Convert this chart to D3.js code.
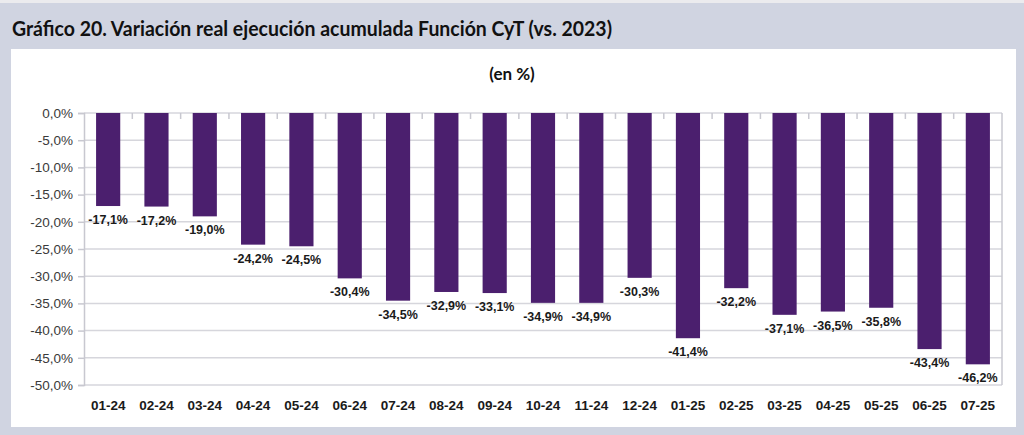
<!DOCTYPE html>
<html><head><meta charset="utf-8">
<script src="https://cdn.jsdelivr.net/npm/d3@7"></script>
<style>
html,body{margin:0;padding:0;background:#d0d4e1;}
svg{display:block;}
</style></head>
<body>
<svg id="chart" width="1024" height="435"></svg>
<script>
const categories = ["01-24","02-24","03-24","04-24","05-24","06-24","07-24","08-24","09-24","10-24","11-24","12-24","01-25","02-25","03-25","04-25","05-25","06-25","07-25"];
const values = [-17.1,-17.2,-19.0,-24.2,-24.5,-30.4,-34.5,-32.9,-33.1,-34.9,-34.9,-30.3,-41.4,-32.2,-37.1,-36.5,-35.8,-43.4,-46.2];
const yTicks = [0,-5,-10,-15,-20,-25,-30,-35,-40,-45,-50];
const titleText = "Gráfico 20. Variación real ejecución acumulada Función CyT (vs. 2023)";
const subtitleText = "(en %)";

(function(){
const svg = d3.select("#chart");
const fmt = v => d3.format(".1f")(v).replace("−","-").replace(".", ",") + "%";

svg.append("rect").attr("x",0).attr("y",0).attr("width",1024).attr("height",435).attr("fill","#d0d4e1");
svg.append("rect").attr("x",0).attr("y",0).attr("width",1024).attr("height",3).attr("fill","#ebebee");
svg.append("rect").attr("x",11).attr("y",49).attr("width",1005).attr("height",378).attr("fill","#ffffff");

svg.append("text").attr("x",12).attr("y",36).text(titleText)
  .attr("font-family","Lato, 'Open Sans', sans-serif").attr("font-weight","bold")
  .attr("font-size",21).attr("fill","#111")
  .attr("textLength",600).attr("lengthAdjust","spacingAndGlyphs");

svg.append("text").attr("x",512).attr("y",80).attr("text-anchor","middle").text(subtitleText)
  .attr("font-family","Lato, 'Open Sans', sans-serif").attr("font-weight","bold")
  .attr("font-size",17).attr("fill","#111");

const pl = 84, pr = 1002, pt = 113, pb = 385;
const x = d3.scaleBand().domain(categories).range([pl, pr]).paddingInner(0.5).paddingOuter(0.25);
const xb = d3.scaleBand().domain(categories).range([pl, pr]);
const y = d3.scaleLinear().domain([0,-50]).range([pt, pb]);

svg.append("g").selectAll("line").data(yTicks).join("line")
  .attr("x1",pl).attr("x2",pr).attr("y1",d=>y(d)).attr("y2",d=>y(d))
  .attr("stroke","#d6d6dc").attr("stroke-width",1.5);

const yAxis = d3.axisLeft(y).tickValues(yTicks).tickSize(6).tickPadding(5).tickFormat(fmt);
const gy = svg.append("g").attr("transform",`translate(${pl},0)`).call(yAxis);
gy.select(".domain").attr("stroke","#c8c8d0").attr("stroke-width",1.5);
gy.selectAll(".tick line").attr("stroke","#c8c8d0").attr("stroke-width",1.5);
gy.selectAll("text").attr("font-family","'Liberation Sans', Arial, sans-serif").attr("font-size",13.5).attr("fill","#3a3a3a");

svg.append("line").attr("x1",pr).attr("x2",pr).attr("y1",pt).attr("y2",pb)
  .attr("stroke","#c8c8d0").attr("stroke-width",1.5);

svg.append("g").selectAll("line").data(categories.slice(1)).join("line")
  .attr("x1",d=>xb(d)).attr("x2",d=>xb(d)).attr("y1",pt).attr("y2",pt+6)
  .attr("stroke","#c8c8d0").attr("stroke-width",1.5);

svg.append("g").selectAll("rect").data(values).join("rect")
  .attr("x",(d,i)=>x(categories[i])).attr("width",x.bandwidth())
  .attr("y",y(0)).attr("height",d=>y(d)-y(0))
  .attr("fill","#4b1f6e");

svg.append("g").selectAll("text").data(values).join("text")
  .attr("x",(d,i)=>x(categories[i])+x.bandwidth()/2)
  .attr("y",d=>y(d)+18).attr("text-anchor","middle").text(fmt)
  .attr("font-family","'Liberation Sans', Arial, sans-serif").attr("font-weight","bold")
  .attr("font-size",12.5).attr("fill","#1a1a1a");

svg.append("g").selectAll("text").data(categories).join("text")
  .attr("x",d=>xb(d)+xb.bandwidth()/2).attr("y",410).attr("text-anchor","middle").text(d=>d)
  .attr("font-family","'Liberation Sans', Arial, sans-serif").attr("font-weight","bold")
  .attr("font-size",13.5).attr("fill","#1a1a1a");
})();
</script>
</body></html>
